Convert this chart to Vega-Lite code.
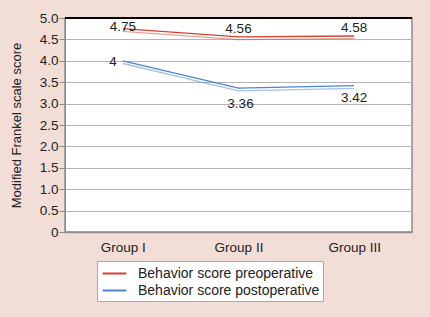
{
  "$schema": "https://vega.github.io/schema/vega-lite/v6.json",
  "width": 347,
  "height": 214,
  "autosize": {"type": "none"},
  "padding": {"left": 65, "top": 18, "right": 18, "bottom": 85},
  "background": "#f2ded6",
  "config": {
    "font": "Liberation Sans",
    "view": {"stroke": "#8c8c8c", "strokeWidth": 1.5, "fill": "white"},
    "axis": {"labelFont": "Liberation Sans", "titleFont": "Liberation Sans", "labelColor": "#222", "titleColor": "#222"}
  },
  "data": {
    "values": [
      {"group": "Group I", "series": "Behavior score preoperative", "score": 4.75},
      {"group": "Group II", "series": "Behavior score preoperative", "score": 4.56},
      {"group": "Group III", "series": "Behavior score preoperative", "score": 4.58},
      {"group": "Group I", "series": "Behavior score postoperative", "score": 4.0},
      {"group": "Group II", "series": "Behavior score postoperative", "score": 3.36},
      {"group": "Group III", "series": "Behavior score postoperative", "score": 3.42}
    ]
  },
  "encoding": {
    "x": {
      "field": "group", "type": "ordinal", "sort": ["Group I", "Group II", "Group III"],
      "scale": {"type": "point", "padding": 0.5},
      "axis": {"title": null, "labelAngle": 0, "ticks": false, "labelPadding": 8, "labelFontSize": 13.5, "domainColor": "#8c8c8c", "domainWidth": 1.5, "grid": false}
    },
    "y": {
      "field": "score", "type": "quantitative",
      "scale": {"domain": [0, 5], "nice": false, "zero": true},
      "axis": {
        "title": "Modified Frankel scale score", "titleFontSize": 13, "titleFontWeight": "normal", "titlePadding": 16,
        "values": [0, 0.5, 1, 1.5, 2, 2.5, 3, 3.5, 4, 4.5, 5],
        "labelExpr": "datum.value == 0 ? '0' : format(datum.value, '.1f')",
        "labelFontSize": 13.5, "labelPadding": 1, "tickSize": 6, "tickColor": "#8c8c8c",
        "domainColor": "#8c8c8c", "gridColor": "#b4b4b4", "gridWidth": 1.2
      }
    },
    "color": {"field": "series", "type": "nominal",
      "scale": {"domain": ["Behavior score preoperative", "Behavior score postoperative"], "range": ["#d5412f", "#4a84d6"]},
      "legend": {
        "title": null, "orient": "none", "legendX": 32, "legendY": 243,
        "fillColor": "white", "strokeColor": "#aaaaaa", "padding": 3,
        "symbolType": "M-1.4,0H1.4", "symbolSize": 289, "symbolStrokeWidth": 2, "symbolOffset": 5, "symbolOpacity": 1,
        "labelFontSize": 14, "labelColor": "#222", "labelFont": "Liberation Sans", "labelOffset": 14, "labelLimit": 400, "rowPadding": 0
      }
    }
  },
  "layer": [
    {
      "mark": {"type": "line", "strokeWidth": 1.3}
    },
    {
      "mark": {"type": "line", "strokeWidth": 1.3, "yOffset": 2.7, "opacity": 0.5}
    },
    {
      "mark": {"type": "rule", "color": "black", "strokeWidth": 1.5},
      "encoding": {"y": {"datum": 5}, "x": {"value": 0}, "x2": {"value": 347}, "color": {"value": "black"}}
    },
    {
      "transform": [{"filter": "datum.series == 'Behavior score preoperative' && datum.group == 'Group I'"}],
      "mark": {"type": "text", "fontSize": 13.5, "baseline": "middle", "dy": -2},
      "encoding": {"text": {"field": "score", "type": "quantitative", "format": ".2f"}, "color": {"value": "#222"}}
    },
    {
      "transform": [{"filter": "datum.series == 'Behavior score preoperative' && datum.group != 'Group I'"}],
      "mark": {"type": "text", "fontSize": 13.5, "baseline": "middle", "dy": -8},
      "encoding": {"text": {"field": "score", "type": "quantitative", "format": ".2f"}, "color": {"value": "#222"}}
    },
    {
      "transform": [{"filter": "datum.series == 'Behavior score postoperative' && datum.group == 'Group I'"}],
      "mark": {"type": "text", "fontSize": 13.5, "baseline": "middle", "align": "right", "dx": -6, "dy": 1},
      "encoding": {"text": {"field": "score", "type": "quantitative", "format": "d"}, "color": {"value": "#222"}}
    },
    {
      "transform": [{"filter": "datum.series == 'Behavior score postoperative' && datum.group == 'Group II'"}],
      "mark": {"type": "text", "fontSize": 13.5, "baseline": "middle", "dx": 2, "dy": 16},
      "encoding": {"text": {"field": "score", "type": "quantitative", "format": ".2f"}, "color": {"value": "#222"}}
    },
    {
      "transform": [{"filter": "datum.series == 'Behavior score postoperative' && datum.group == 'Group III'"}],
      "mark": {"type": "text", "fontSize": 13.5, "baseline": "middle", "dy": 12.5},
      "encoding": {"text": {"field": "score", "type": "quantitative", "format": ".2f"}, "color": {"value": "#222"}}
    }
  ]
}
